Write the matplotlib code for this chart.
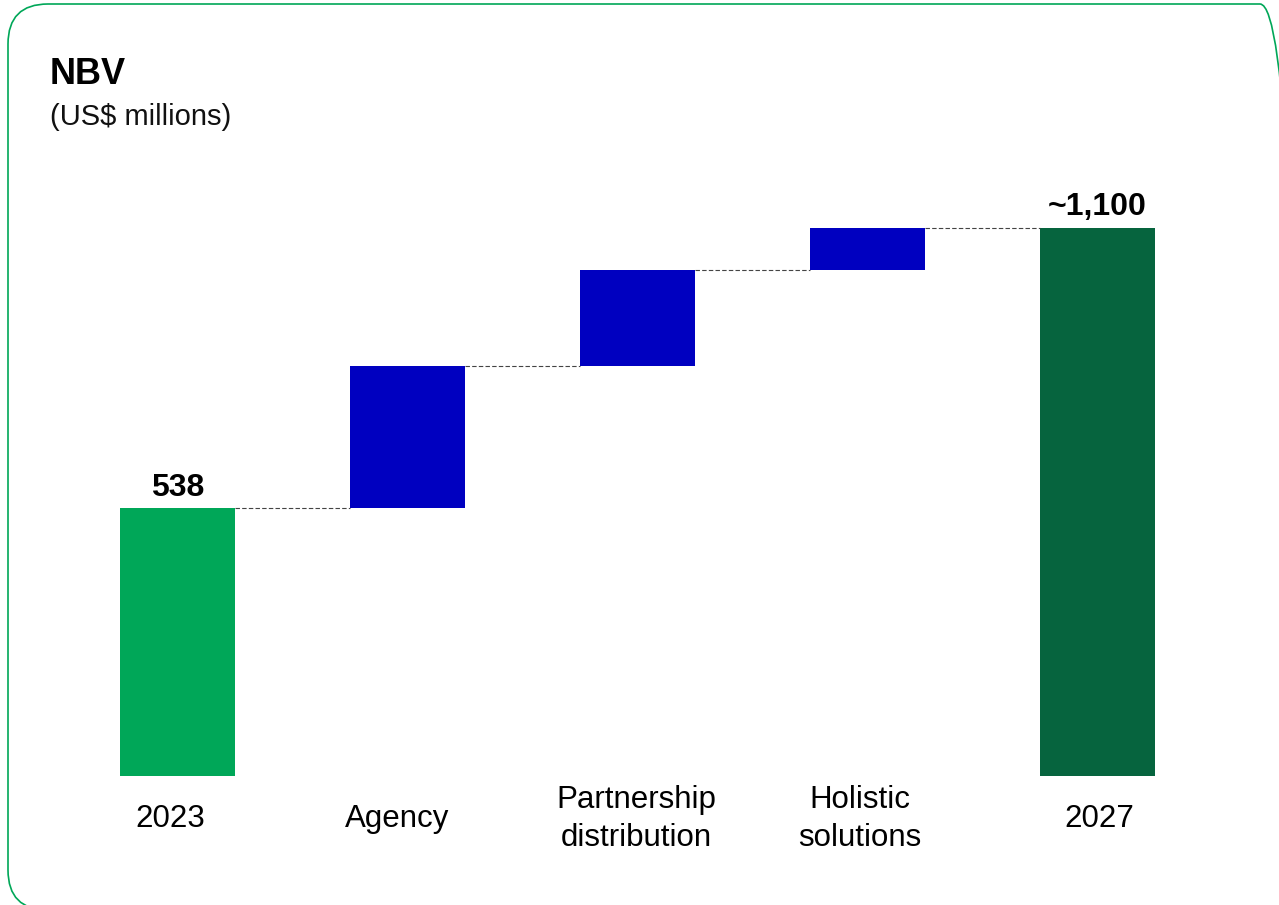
import matplotlib.pyplot as plt
from matplotlib.patches import FancyBboxPatch

plt.rcParams['font.family'] = ['Liberation Sans', 'DejaVu Sans']

# NBV bridge, US$ millions
categories = ['2023', 'Agency', 'Partnership\ndistribution', 'Holistic\nsolutions', '2027']
start_value = 538
increments = [285, 193, 84]
end_value = 1100
value_labels = ['538', '~1,100']

c_start = '#00A758'
c_step = '#0000C0'
c_end = '#06643E'

# small horizontal nudges (pixels) for the category captions
label_dx = [-7, -10, -1, -8, 2]

fig = plt.figure(figsize=(12.79, 9.05), dpi=100)

# rounded frame around the whole panel
frame = FancyBboxPatch((0.08, -0.05), 12.92, 9.05 - 0.04 + 0.05,
                       boxstyle='round,pad=0,rounding_size=0.4',
                       transform=fig.dpi_scale_trans, facecolor='none',
                       edgecolor='#00A758', linewidth=1.2, zorder=0)
fig.patches.append(frame)

fig.text(50 / 1279, 1 - 75 / 905, 'NBV', fontsize=26, fontweight='bold',
         va='center', ha='left')
fig.text(50 / 1279, 1 - 117 / 905, '(US$ millions)', fontsize=21,
         va='center', ha='left', color='#111111')

ax = fig.add_axes([39.5 / 1279, (905 - 776) / 905, (1235.5 - 39.5) / 1279, (776 - 150) / 905])
ax.set_xlim(-0.6, 4.6)
ax.set_ylim(0, 1257)
ax.axis('off')

w = 0.5
ax.bar(0, start_value, width=w, color=c_start)
level = start_value
tops = [start_value]
for i, inc in enumerate(increments, start=1):
    ax.bar(i, inc, bottom=level, width=w, color=c_step)
    level += inc
    tops.append(level)
ax.bar(4, end_value, width=w, color=c_end)
tops.append(end_value)

# dashed connectors between consecutive bars
for i in range(4):
    ax.plot([i + w / 2, i + 1 - w / 2], [tops[i], tops[i]], color='#444444',
            linestyle=(0, (4, 2)), linewidth=0.8)

ax.annotate(value_labels[0], xy=(0, start_value), xytext=(0, 20),
            textcoords='offset pixels', ha='center', va='center',
            fontsize=23, fontweight='bold')
ax.annotate(value_labels[1], xy=(4, end_value), xytext=(0, 21),
            textcoords='offset pixels', ha='center', va='center',
            fontsize=23, fontweight='bold')

for i, cat in enumerate(categories):
    ax.annotate(cat, xy=(i, 0), xytext=(label_dx[i], -43), textcoords='offset pixels',
                ha='center', va='center', fontsize=22.5, linespacing=1.38)

fig.savefig('out.png', dpi=100)
